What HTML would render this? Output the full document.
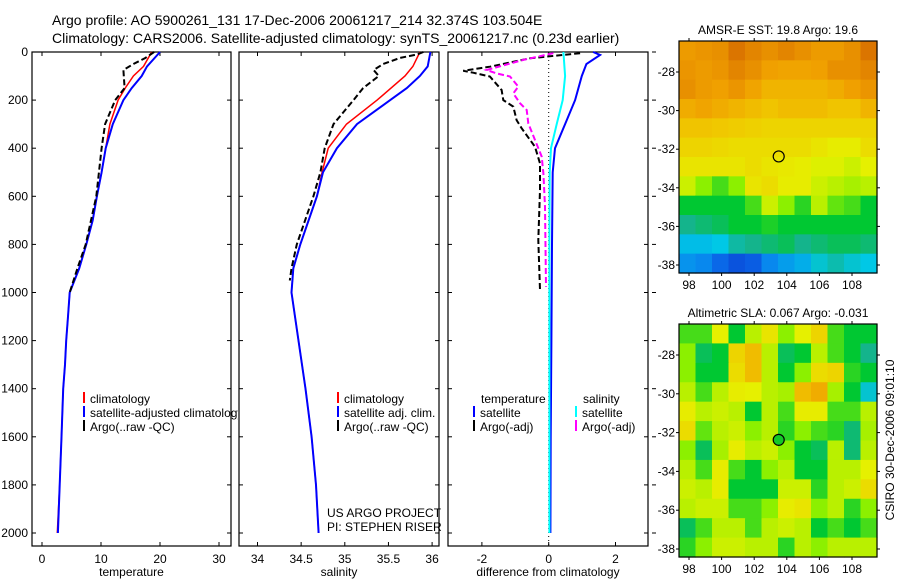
<!DOCTYPE html>
<html><head><meta charset="utf-8"><style>
body{margin:0;background:#fff;width:900px;height:580px;overflow:hidden}
svg text{font-family:"Liberation Sans",sans-serif;fill:#000}
</style></head><body>
<svg id="c" width="900" height="580" viewBox="0 0 900 580" xmlns="http://www.w3.org/2000/svg">
<defs><clipPath id="cp1"><rect x="32" y="0" width="206" height="580"/></clipPath></defs>
<text x="52" y="25" font-size="14">Argo profile: AO 5900261_131 17-Dec-2006 20061217_214 32.374S 103.504E</text>
<text x="52" y="43" font-size="14">Climatology: CARS2006. Satellite-adjusted climatology: synTS_20061217.nc (0.23d earlier)</text>
<g id="g"></g>
</svg>
<script>
// ---- data ----
const tClimDepth=[0,60,100,150,200,300,400,500,600,700,800,900,1000,1100,1200,1300,1400,1600,1800,2000];
const tClimVal=[18.6,17.2,15.5,14.1,12.9,11.5,10.8,10.1,9.3,8.6,7.5,6.3,4.7,4.4,4.1,3.9,3.6,3.3,3.0,2.6];
const tSatDepth=[0,60,100,150,200,300,400,500,600,700,800,900,1000,1100,1200,1300,1400,1600,1800,2000];
const tSatVal=[20.0,17.8,16.9,15.2,13.8,12.0,10.8,10.1,9.3,8.6,7.5,6.3,4.7,4.4,4.1,3.9,3.6,3.3,3.0,2.7];
const tArgoDepth=[0,25,50,75,150,200,300,400,600,800,900,1000];
const tArgoVal=[19.0,17.5,15.5,13.8,14.0,12.4,10.7,10.1,9.2,7.4,6.0,4.7];
const sClimDepth=[0,60,100,200,300,400,500,600,800,900,1000,1100,1400,1600,1800,2000];
const sClimVal=[35.86,35.78,35.69,35.37,35.02,34.81,34.74,34.68,34.49,34.41,34.39,34.43,34.55,34.62,34.67,34.70];
const sSatDepth=[0,60,100,150,200,300,400,500,600,800,900,1000,1100,1400,1600,1800,2000];
const sSatVal=[35.98,35.95,35.86,35.71,35.52,35.14,34.91,34.75,34.68,34.49,34.41,34.39,34.43,34.55,34.62,34.67,34.70];
const sArgoDepth=[0,10,25,50,75,100,150,200,300,400,500,600,800,900,950];
const sArgoVal=[35.9,35.83,35.63,35.44,35.33,35.39,35.21,35.1,34.87,34.77,34.72,34.64,34.45,34.39,34.37];
const dTSatDepth=[0,12,50,100,200,300,400,500,800,1200,1600,2000];
const dTSatVal=[1.33,1.54,1.13,0.99,0.79,0.49,0.19,0.12,0.1,0.08,0.06,0.05];
const dSSatDepth=[0,100,200,300,400,500,800,1200,2000];
const dSSatVal=[0.44,0.49,0.42,0.24,0.07,0.03,0.02,0.02,0.02];
const dTArgoDepth=[5,26,61,78,86,102,158,200,227,283,317,394,463,574,782,990];
const dTArgoVal=[0.94,-0.56,-1.76,-2.56,-2.26,-1.76,-1.41,-1.36,-1.06,-0.96,-0.81,-0.41,-0.26,-0.26,-0.31,-0.26];
const dSArgoDepth=[5,33,75,89,102,144,172,213,241,297,366,435,505,643,976];
const dSArgoVal=[0.14,-0.76,-1.86,-1.56,-1.16,-0.91,-1.06,-0.86,-0.66,-0.61,-0.41,-0.21,-0.16,-0.11,-0.08];
const depthTicks=[0,200,400,600,800,1000,1200,1400,1600,1800,2000];
const tTicks=[0,10,20,30];
const sTicks=[34,34.5,35,35.5,36];
const dTicks=[-2,0,2];
const lonTicks=[98,100,102,104,106,108];
const latTicks=[-28,-30,-32,-34,-36,-38];
const sstGrid=[
[0.86,0.87,0.88,0.93,0.9,0.88,0.9,0.88,0.86,0.86,0.88,0.93],
[0.87,0.86,0.87,0.9,0.88,0.85,0.84,0.84,0.85,0.88,0.88,0.9],
[0.88,0.86,0.85,0.87,0.84,0.8,0.8,0.8,0.8,0.82,0.85,0.87],
[0.82,0.84,0.82,0.8,0.78,0.76,0.78,0.78,0.78,0.76,0.76,0.8],
[0.76,0.76,0.75,0.74,0.73,0.72,0.72,0.72,0.72,0.72,0.72,0.72],
[0.72,0.72,0.71,0.7,0.7,0.7,0.7,0.7,0.68,0.66,0.66,0.7],
[0.68,0.68,0.68,0.68,0.7,0.68,0.67,0.66,0.64,0.64,0.62,0.65],
[0.62,0.55,0.5,0.55,0.68,0.7,0.66,0.66,0.62,0.6,0.58,0.6],
[0.45,0.45,0.45,0.45,0.5,0.62,0.55,0.48,0.6,0.52,0.5,0.45],
[0.38,0.4,0.42,0.45,0.45,0.47,0.45,0.45,0.45,0.45,0.45,0.45],
[0.28,0.28,0.3,0.36,0.38,0.4,0.42,0.38,0.4,0.42,0.42,0.4],
[0.2,0.18,0.12,0.08,0.1,0.18,0.22,0.25,0.32,0.35,0.32,0.3]];
const slaGrid=[
[0.5,0.5,0.65,0.45,0.6,0.68,0.55,0.65,0.72,0.5,0.45,0.45],
[0.55,0.42,0.45,0.72,0.78,0.6,0.42,0.45,0.6,0.5,0.45,0.38],
[0.55,0.45,0.45,0.7,0.78,0.6,0.45,0.55,0.7,0.72,0.48,0.45],
[0.6,0.5,0.6,0.66,0.65,0.6,0.58,0.78,0.82,0.58,0.45,0.32],
[0.66,0.6,0.62,0.6,0.45,0.6,0.5,0.66,0.66,0.5,0.5,0.6],
[0.7,0.52,0.6,0.62,0.55,0.6,0.48,0.55,0.5,0.48,0.4,0.58],
[0.55,0.42,0.58,0.66,0.6,0.62,0.55,0.45,0.42,0.6,0.4,0.6],
[0.6,0.5,0.66,0.5,0.45,0.55,0.6,0.45,0.45,0.6,0.6,0.65],
[0.62,0.6,0.66,0.45,0.45,0.45,0.62,0.62,0.48,0.6,0.62,0.7],
[0.6,0.62,0.62,0.5,0.5,0.55,0.66,0.68,0.55,0.6,0.48,0.55],
[0.42,0.5,0.6,0.6,0.5,0.6,0.62,0.6,0.45,0.5,0.45,0.5],
[0.48,0.55,0.62,0.62,0.6,0.6,0.48,0.6,0.55,0.6,0.6,0.6]];
const argoLon=103.504, argoLat=-32.374;

// ---- helpers ----
const NS='http://www.w3.org/2000/svg';
const G=document.getElementById('g');
function mk(tag,at,parent){const e=document.createElementNS(NS,tag);for(const k in at)e.setAttribute(k,at[k]);(parent||G).appendChild(e);return e;}
const yD=d=>52+d*0.2405;
const xT=v=>42+v*5.9;
const xS=v=>257.5+(v-34)*87.3;
const xDf=v=>548.7+v*33.4;
const PTOP=52,PBOT=546;
function line(xs,ds,xf,col,w,dash,name,parent){
  const pts=ds.map((d,i)=>xf(xs[i]).toFixed(1)+','+yD(d).toFixed(1)).join(' ');
  const e=mk('polyline',{points:pts,fill:'none',stroke:col,'stroke-width':w},parent);
  if(dash)e.setAttribute('stroke-dasharray',dash);
  
  
}
function txt(x,y,s,size,anchor,name,parent){const e=mk('text',{x:x,y:y,'font-size':size,'text-anchor':anchor||'start'},parent);e.textContent=s;
  
  return e;}
function panel(x0,x1,ticks,xf,fmt,label,name,leftLabels){
  const r=mk('rect',{x:x0,y:PTOP,width:x1-x0,height:PBOT-PTOP,fill:'none',stroke:'#000','stroke-width':1.2});
  
  
  ticks.forEach(t=>{const x=xf(t);
    mk('line',{x1:x,x2:x,y1:PTOP,y2:PTOP+4,stroke:'#000'});mk('line',{x1:x,x2:x,y1:PBOT,y2:PBOT-4,stroke:'#000'});
    txt(x,563,fmt(t),12,'middle',name+'-x-tick');});
  depthTicks.forEach(d=>{const y=yD(d);
    mk('line',{x1:x0,x2:x0+4,y1:y,y2:y,stroke:'#000'});mk('line',{x1:x1,x2:x1-4,y1:y,y2:y,stroke:'#000'});
    if(leftLabels)txt(28,y+4,String(d),12,'end','y-tick-label');});
  txt((x0+x1)/2,576,label,12,'middle',name+'-x-axis-title');
}
panel(32,231,tTicks,xT,String,'temperature','temperature-panel',true);
panel(239,439,sTicks,xS,String,'salinity','salinity-panel',false);
panel(448,648,dTicks,xDf,String,'difference from climatology','difference-panel',false);
depthTicks.forEach(d=>{mk('line',{x1:652,x2:656,y1:yD(d),y2:yD(d),stroke:'#000'});});
const zl=mk('line',{x1:xDf(0),x2:xDf(0),y1:PTOP,y2:PBOT,stroke:'#000','stroke-dasharray':'1,3'});



line(tClimVal,tClimDepth,xT,'#f00',1.5,null,'temp-climatology-line');
line(tSatVal,tSatDepth,xT,'#00f',2,null,'temp-satellite-line');
line(tArgoVal,tArgoDepth,xT,'#000',2,'6,3','temp-argo-line');
line(sClimVal,sClimDepth,xS,'#f00',1.5,null,'sal-climatology-line');
line(sSatVal,sSatDepth,xS,'#00f',2,null,'sal-satellite-line');
line(sArgoVal,sArgoDepth,xS,'#000',2,'6,3','sal-argo-line');
line(dTSatVal,dTSatDepth,xDf,'#00f',2,null,'diff-temp-satellite-line');
line(dSSatVal,dSSatDepth,xDf,'#0ff',2,null,'diff-sal-satellite-line');
line(dTArgoVal,dTArgoDepth,xDf,'#000',2,'6,3','diff-temp-argo-line');
line(dSArgoVal,dSArgoDepth,xDf,'#f0f',2,'6,3','diff-sal-argo-line');

// legends
function leg(x,y,col,s,name,parent){mk('line',{x1:x,x2:x,y1:y-11,y2:y,stroke:col,'stroke-width':2},parent);txt(x+6,y,s,12,'start',name,parent);}
const lg1=mk('g',{'clip-path':'url(#cp1)'});
leg(84,403,'#f00','climatology','legend-climatology',lg1);
leg(84,417,'#00f','satellite-adjusted climatology','legend-satellite-adjusted',lg1);
leg(84,431,'#000','Argo(..raw -QC)','legend-argo',lg1);
leg(338,403,'#f00','climatology','legend-sal-climatology');
leg(338,417,'#00f','satellite adj. clim.','legend-sal-satellite');
leg(338,431,'#000','Argo(..raw -QC)','legend-sal-argo');
txt(481,403,'temperature',12,'start','legend-temperature-header');
txt(583,403,'salinity',12,'start','legend-salinity-header');
leg(474,417,'#00f','satellite','legend-diff-temp-satellite');
leg(474,431,'#000','Argo(-adj)','legend-diff-temp-argo');
leg(576,417,'#0ff','satellite','legend-diff-sal-satellite');
leg(576,431,'#f0f','Argo(-adj)','legend-diff-sal-argo');
txt(327,517,'US ARGO PROJECT',12,'start','project-label');
txt(327,531,'PI: STEPHEN RISER',12,'start','pi-label');

// colormap
const stops=[[0,[10,40,200]],[0.15,[10,120,240]],[0.3,[0,200,230]],[0.38,[20,180,140]],[0.45,[0,200,50]],[0.55,[140,240,0]],[0.65,[230,240,0]],[0.75,[240,200,0]],[0.85,[240,160,0]],[1,[200,80,0]]];
function cmap(v){for(let i=1;i<stops.length;i++){if(v<=stops[i][0]){const a=stops[i-1],b=stops[i],f=(v-a[0])/(b[0]-a[0]);return 'rgb('+a[1].map((c,k)=>Math.round(c+(b[1][k]-c)*f)).join(',')+')';}}return 'rgb(200,80,0)';}
function map(top,bot,grid,title,name,fillDot){
  const L=679,R=877,lonX=l=>689+(l-98)*16.3;const latY=a=>top+31+(-28-a)*((bot-top-39)/10);
  const nr=grid.length,nc=grid[0].length,cw=(R-L)/nc,ch=(bot-top)/nr;
  grid.forEach((row,i)=>row.forEach((v,j)=>{const c=mk('rect',{x:L+j*cw,y:top+i*ch,width:cw+0.6,height:ch+0.6,fill:cmap(v)});
    
    }));
  const f=mk('rect',{x:L,y:top,width:R-L,height:bot-top,fill:'none',stroke:'#000','stroke-width':1.2});
  
  
  lonTicks.forEach(l=>{const x=lonX(l);mk('line',{x1:x,x2:x,y1:top-3,y2:top,stroke:'#000'});mk('line',{x1:x,x2:x,y1:bot,y2:bot+3,stroke:'#000'});txt(x,bot+16,String(l),12,'middle',name+'-lon-label');});
  latTicks.forEach(a=>{const y=latY(a);mk('line',{x1:L-3,x2:L,y1:y,y2:y,stroke:'#000'});mk('line',{x1:R,x2:R+3,y1:y,y2:y,stroke:'#000'});txt(675,y+4,String(a),12,'end',name+'-lat-label');});
  txt(778,top-7,title,12,'middle',name+'-title');
  const c=mk('circle',{cx:lonX(argoLon),cy:latY(argoLat),r:5.5,fill:fillDot?'#14c828':'none',stroke:'#000','stroke-width':1.2});
  
  
}
map(41,273,sstGrid,'AMSR-E SST: 19.8 Argo: 19.6','sst-map',false);
map(324,557,slaGrid,'Altimetric SLA: 0.067 Argo: -0.031','sla-map',true);
const v=txt(0,0,'CSIRO 30-Dec-2006 09:01:10',12,'middle','timestamp-label');
v.setAttribute('transform','translate(894,440) rotate(-90)');
</script>
</body></html>
